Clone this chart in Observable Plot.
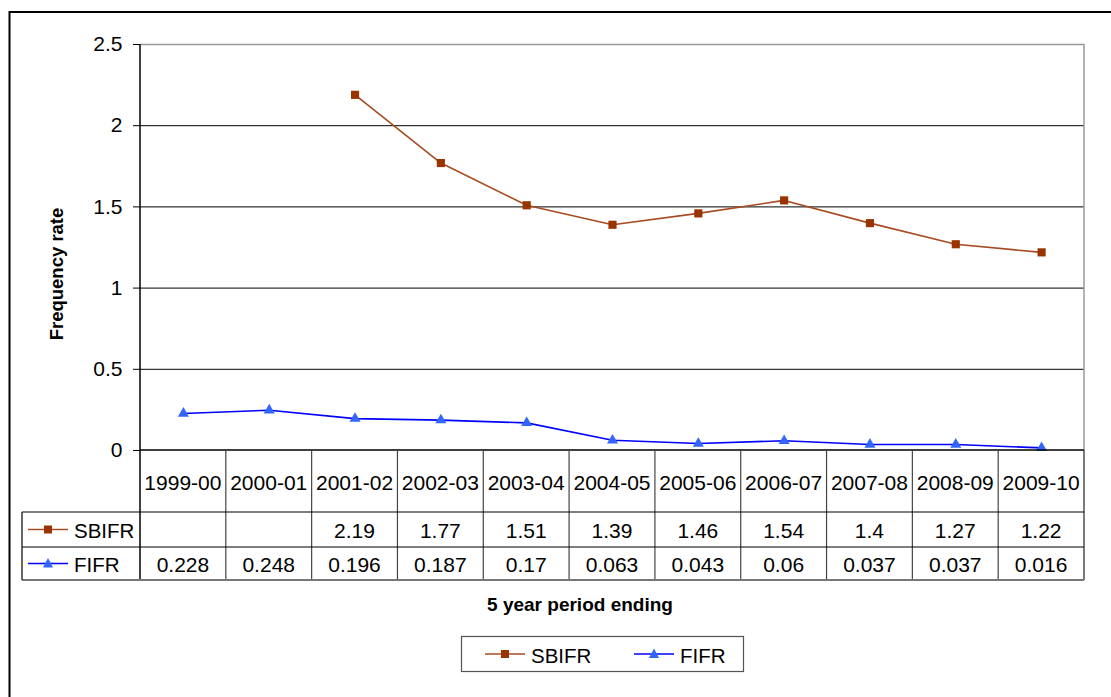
<!DOCTYPE html>
<html><head><meta charset="utf-8">
<script src="https://cdn.jsdelivr.net/npm/d3@7"></script>
<script src="https://cdn.jsdelivr.net/npm/@observablehq/plot@0.6"></script>
<style>body{margin:0;background:#fff} svg{display:block}</style>
</head><body><div id="chart"></div>
<script>
const periods = ["1999-00","2000-01","2001-02","2002-03","2003-04","2004-05","2005-06","2006-07","2007-08","2008-09","2009-10"];
const sbifr = [null, null, 2.19, 1.77, 1.51, 1.39, 1.46, 1.54, 1.4, 1.27, 1.22];
const fifr = [0.228, 0.248, 0.196, 0.187, 0.17, 0.063, 0.043, 0.06, 0.037, 0.037, 0.016];
const yTicks = [0, 0.5, 1, 1.5, 2, 2.5];
const gridValues = [0.5, 1, 1.5, 2];
const seriesNames = ["SBIFR", "FIFR"];
const yTitle = "Frequency rate";
const xTitle = "5 year period ending";

const FONT = '"Liberation Sans", Arial, Helvetica, sans-serif';
const SB_LINE = "#a64b22", SB_MARK = "#993300";
const FI_LINE = "#0000ff", FI_MARK = "#3366ff";

const rows = periods.map((p, i) => ({period: p, sbifr: sbifr[i], fifr: fifr[i]}));

const chart = Plot.plot({
  width: 1111, height: 697,
  marginLeft: 140, marginRight: 27, marginTop: 44, marginBottom: 247,
  style: {fontFamily: FONT, background: "#fff", color: "#000"},
  x: {type: "point", domain: periods, padding: 0.5, round: false, axis: null},
  y: {domain: [0, 2.5]},
  marks: [
    Plot.ruleY(gridValues, {stroke: "#000", strokeWidth: 1}),
    Plot.ruleY([2.5], {stroke: "#999", strokeWidth: 1.5}),
    Plot.axisY({ticks: yTicks, tickSize: 7, tickPadding: 11, fontSize: 21, tickFormat: d => String(d), label: null, stroke: "#000"}),
    Plot.line(rows, {x: "period", y: "sbifr", stroke: SB_LINE, strokeWidth: 1.6}),
    Plot.dot(rows.filter(d => d.sbifr != null), {x: "period", y: "sbifr", symbol: "square", r: 4.6, fill: SB_MARK}),
    Plot.line(rows, {x: "period", y: "fifr", stroke: FI_LINE, strokeWidth: 1.6}),
    Plot.dot(rows, {x: "period", y: "fifr", symbol: "triangle", r: 4.1, fill: FI_MARK})
  ]
});

const svg = d3.select(chart);
const xs = chart.scale("x");
const ys = chart.scale("y");
const step = xs.apply(periods[1]) - xs.apply(periods[0]);
const left = xs.apply(periods[0]) - step / 2;
const right = xs.apply(periods[periods.length - 1]) + step / 2;
const yTop = ys.apply(2.5), yZero = ys.apply(0);

// outer chart border
svg.append("path").attr("d", `M9.5,700V12H1115`).attr("fill", "none").attr("stroke", "#000").attr("stroke-width", 2);
// plot area right border
svg.append("line").attr("x1", right).attr("x2", right).attr("y1", yTop).attr("y2", yZero).attr("stroke", "#999").attr("stroke-width", 1.5);

// data table geometry
const hdrBottom = yZero + 62, r1Bottom = hdrBottom + 35, r2Bottom = r1Bottom + 33;
const tableLeft = 22;
const g = svg.append("g");
// axis line continuing through table
g.append("line").attr("x1", left).attr("x2", left).attr("y1", yTop).attr("y2", r2Bottom).attr("stroke", "#000").attr("stroke-width", 1.5);
// bottom axis line
g.append("line").attr("x1", left).attr("x2", right).attr("y1", yZero).attr("y2", yZero).attr("stroke", "#000").attr("stroke-width", 1.5);
// column separators
periods.forEach((p, i) => {
  const xb = xs.apply(p) + step / 2;
  g.append("line").attr("x1", xb).attr("x2", xb).attr("y1", yZero).attr("y2", r2Bottom)
    .attr("stroke", i === periods.length - 1 ? "#222" : "#444").attr("stroke-width", 1.2);
});
// horizontal lines
[[hdrBottom, "#000"], [r1Bottom, "#000"], [r2Bottom, "#777"]].forEach(([y, c], i) => {
  g.append("line").attr("x1", tableLeft).attr("x2", right).attr("y1", y).attr("y2", y).attr("stroke", c).attr("stroke-width", i === 2 ? 2 : 1.2);
});
g.append("line").attr("x1", tableLeft).attr("x2", tableLeft).attr("y1", hdrBottom).attr("y2", r2Bottom).attr("stroke", "#000").attr("stroke-width", 1.2);

const txt = (sel, x, y, s, opts = {}) => sel.append("text").attr("x", x).attr("y", y)
  .attr("text-anchor", opts.anchor || "middle").attr("dominant-baseline", "central")
  .attr("font-family", FONT).attr("font-size", opts.size || 21).attr("font-weight", opts.weight || "normal")
  .attr("fill", "#000").text(s);

// header labels
periods.forEach(p => txt(g, xs.apply(p), (yZero + hdrBottom) / 2 + 1, p));
// values
const r1c = (hdrBottom + r1Bottom) / 2 + 1, r2c = (r1Bottom + r2Bottom) / 2 + 1;
periods.forEach((p, i) => {
  if (sbifr[i] != null) txt(g, xs.apply(p), r1c, String(sbifr[i]));
  txt(g, xs.apply(p), r2c, String(fifr[i]));
});

// legend keys
function key(sel, x0, y, name) {
  const isSB = name === "SBIFR";
  sel.append("line").attr("x1", x0).attr("x2", x0 + 40).attr("y1", y).attr("y2", y)
    .attr("stroke", isSB ? SB_LINE : FI_LINE).attr("stroke-width", 1.5);
  if (isSB) sel.append("rect").attr("x", x0 + 16).attr("y", y - 4).attr("width", 8).attr("height", 8).attr("fill", SB_MARK);
  else sel.append("path").attr("d", `M${x0 + 20},${y - 5.5}L${x0 + 25},${y + 4}L${x0 + 15},${y + 4}Z`).attr("fill", FI_MARK);
  txt(sel, x0 + 46, y + 1, name, {anchor: "start", size: 20.5});
}
key(g, 28, r1c - 1, seriesNames[0]);
key(g, 28, r2c - 1, seriesNames[1]);

// axis titles
svg.append("text").attr("transform", `translate(56,274) rotate(-90)`).attr("text-anchor", "middle")
  .attr("dominant-baseline", "central").attr("font-family", FONT).attr("font-size", 18.5).attr("font-weight", "bold").text(yTitle);
txt(svg, 580, 604, xTitle, {size: 19, weight: "bold"});

// legend box
const lg = svg.append("g");
lg.append("rect").attr("x", 461.5).attr("y", 636.5).attr("width", 282).attr("height", 35).attr("fill", "#fff").attr("stroke", "#555").attr("stroke-width", 1.2);
key(lg, 485, 654, seriesNames[0]);
key(lg, 634, 654, seriesNames[1]);

document.getElementById("chart").appendChild(chart);
</script>
</body></html>
